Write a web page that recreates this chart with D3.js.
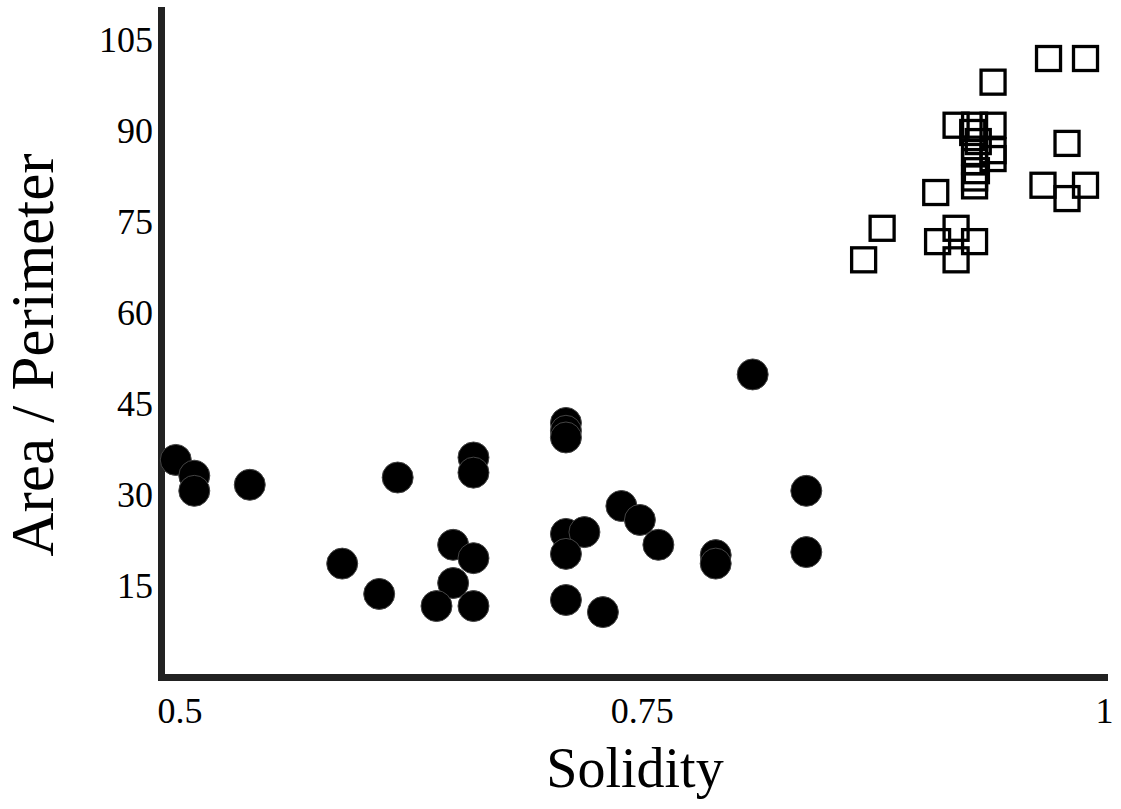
<!DOCTYPE html>
<html>
<head>
<meta charset="utf-8">
<script src="https://cdn.jsdelivr.net/npm/d3@7"></script>
<style>
  body { margin: 0; background: #fff; }
  text { font-family: "Liberation Serif", "DejaVu Serif", serif; fill: #000; }
</style>
</head>
<body>
<div id="my_dataviz"></div>
<script>

// set the dimensions of the graph
let width = 1121,
    height = 809

// solid black circles
var circleX = [0.498, 0.508, 0.508, 0.538, 0.618, 0.659, 0.659, 0.588, 0.608, 0.648,
               0.659, 0.648, 0.639, 0.659, 0.810, 0.709, 0.709, 0.709, 0.739, 0.749,
               0.759, 0.709, 0.719, 0.709, 0.790, 0.790, 0.839, 0.839, 0.709, 0.729]
var circleY = [35.8, 33.2, 30.7, 31.7, 32.9, 36.2, 33.7, 18.7, 13.7, 21.8,
               19.6, 15.5, 11.7, 11.7, 49.9, 41.9, 40.6, 39.5, 28.2, 25.9,
               21.8, 23.6, 23.9, 20.3, 20.1, 18.7, 30.7, 20.6, 12.7, 10.7]

// open squares
var squareX = [0.970, 0.990, 0.940, 0.920, 0.940, 0.940, 0.940, 0.980, 0.967, 0.990,
               0.980, 0.909, 0.880, 0.870, 0.920, 0.910, 0.930, 0.920,
               0.930, 0.929, 0.932, 0.930, 0.930, 0.931, 0.930, 0.930]
var squareY = [102.0, 102.0, 98.1, 91.0, 91.0, 86.8, 85.5, 88.0, 81.1, 81.1,
               78.9, 79.9, 74.0, 68.8, 74.0, 71.8, 71.8, 68.8,
               91.0, 89.8, 88.3, 86.5, 85.0, 83.5, 82.3, 81.0]

// tick values and their labels
var xTicks = [0.5, 0.75, 1]
var xTickLabels = ["0.5", "0.75", "1"]
var yTicks = [15, 30, 45, 60, 75, 90, 105]
var yTickLabels = ["15", "30", "45", "60", "75", "90", "105"]

var svg = d3.select("#my_dataviz")
  .append("svg")
    .attr("width", width)
    .attr("height", height)

var x = d3.scaleLinear()
  .domain([0.49, 1])
  .range([161, 1104])

var y = d3.scaleLinear()
  .domain([0, 110])
  .range([677, 10])

// y axis
var yAxis = svg.append("g")
  .attr("transform", "translate(161,0)")
  .call(d3.axisLeft(y)
    .tickValues(yTicks)
    .tickSize(0)
    .tickPadding(8)
    .tickFormat(function(d, i) { return yTickLabels[i] }))

// x axis
var xAxis = svg.append("g")
  .attr("transform", "translate(0,677)")
  .call(d3.axisBottom(x)
    .tickValues(xTicks)
    .tickSize(0)
    .tickPadding(20)
    .tickFormat(function(d, i) { return xTickLabels[i] }))

svg.selectAll(".domain")
  .attr("stroke", "#222")
  .attr("stroke-width", 7)
  .attr("stroke-linecap", "square")

svg.selectAll(".tick text")
  .style("font-family", "'Liberation Serif', serif")
  .style("font-size", "36px")
  .attr("fill", "#000")

// circles
svg.append("g")
  .selectAll("circle")
  .data(circleX)
  .enter()
  .append("circle")
    .attr("cx", function(d) { return x(d) })
    .attr("cy", function(d, i) { return y(circleY[i]) })
    .attr("r", 15.5)
    .attr("fill", "#000")
    .attr("stroke", "#444")
    .attr("stroke-width", 1)

// squares (no fill, edges overlap)
var side = 24
svg.append("g")
  .selectAll("rect")
  .data(squareX)
  .enter()
  .append("rect")
    .attr("x", function(d) { return x(d) - side / 2 })
    .attr("y", function(d, i) { return y(squareY[i]) - side / 2 })
    .attr("width", side)
    .attr("height", side)
    .attr("fill", "none")
    .attr("stroke", "#000")
    .attr("stroke-width", 3.3)

// axis titles
svg.append("text")
  .attr("x", 635)
  .attr("y", 787)
  .attr("text-anchor", "middle")
  .style("font-size", "56px")
  .text("Solidity")

svg.append("text")
  .attr("transform", "translate(53,355) rotate(-90)")
  .attr("text-anchor", "middle")
  .style("font-size", "61px")
  .text("Area / Perimeter")

</script>
</body>
</html>
